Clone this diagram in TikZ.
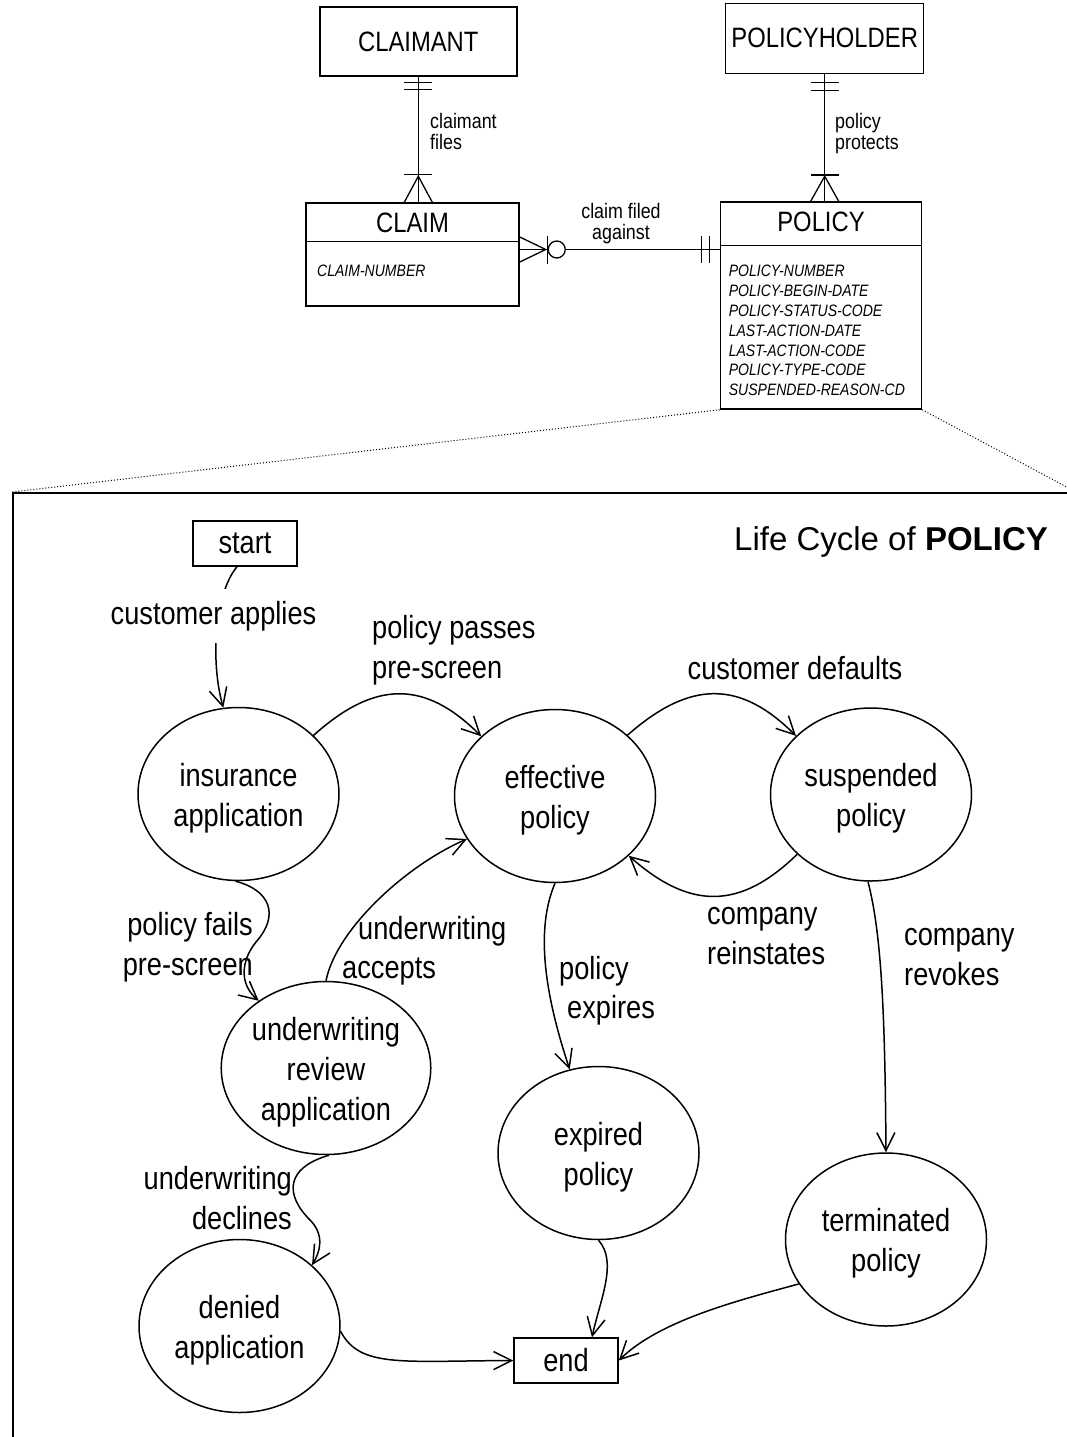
\documentclass[tikz,border=0pt]{standalone}
\usepackage{fontspec}
\setmainfont{Liberation Sans}
\newfontfamily\narrowsans[FakeStretch=0.85]{Liberation Sans}
\usetikzlibrary{shapes.geometric,arrows.meta}
% taller first line so the state text sits a little lower in its ellipse
\newcommand{\lift}{\rule{0pt}{31pt}}

\begin{document}
\begin{tikzpicture}[x=1pt,y=-1pt,
  state/.style={ellipse, draw, line width=1.5pt, minimum width=201pt, minimum height=173pt,
    inner sep=0pt, align=center, font=\narrowsans\fontsize{32}{40}\selectfont},
  endbox/.style={draw, line width=1.5pt, minimum width=104pt, minimum height=45pt,
    inner sep=0pt, font=\narrowsans\fontsize{32}{40}\selectfont},
  lbl/.style={inner sep=0pt, font=\narrowsans\fontsize{32}{40}\selectfont},
  ent/.style={draw, line width=1.5pt, inner sep=0pt, font=\narrowsans\fontsize{28}{32}\selectfont},
  enttitle/.style={inner sep=0pt, font=\narrowsans\fontsize{28}{32}\selectfont},
  rel/.style={inner sep=0pt, align=left, font=\narrowsans\fontsize{21}{21}\selectfont},
  attr/.style={inner sep=0pt, align=left, anchor=north west,
    font=\narrowsans\itshape\fontsize{16.5}{19.8}\selectfont},
  erline/.style={line width=1.3pt},
  flow/.style={line width=1.5pt, -{Straight Barb[length=18pt,width=18pt]}},
  zoomline/.style={line width=1pt, dash pattern=on 1pt off 2pt},
]
\useasboundingbox (0,0) rectangle (1067,1437);

% ---------------- entity-relationship part ----------------
\node[ent, minimum width=197pt, minimum height=69pt] (claimant) at (418.3,41.5) {CLAIMANT};
\node[ent, minimum width=198pt, minimum height=70pt] (holder) at (824.7,38.3) {POLICYHOLDER};
\node[ent, minimum width=213pt, minimum height=103pt] (claim) at (412.5,254.5) {};
\node[ent, minimum width=201pt, minimum height=207pt] (policy) at (821,305.5) {};

\node[enttitle] (claimT) at (412.5,223) {CLAIM};
\node[enttitle] (policyT) at (821,222) {POLICY};
\draw[line width=1.5pt] ([yshift=-39pt]claim.north west) -- ([yshift=-39pt]claim.north east);
\draw[line width=1.5pt] ([yshift=-44pt]policy.north west) -- ([yshift=-44pt]policy.north east);

\node[attr] (claimA) at (317,265.2) {CLAIM-NUMBER};
\node[attr] (policyA) at (728.6,265.2) {POLICY-NUMBER\\POLICY-BEGIN-DATE\\POLICY-STATUS-CODE\\LAST-ACTION-DATE\\LAST-ACTION-CODE\\POLICY-TYPE-CODE\\SUSPENDED-REASON-CD};

% claimant files claim
\coordinate (cfA) at (claimant.south |- claim.north);
\draw[erline] (claimant.south) -- (cfA);
\draw[erline] ([shift={(-14pt,-6pt)}]claimant.south) -- ([shift={(14pt,-6pt)}]claimant.south);
\draw[erline] ([shift={(-14pt,-13pt)}]claimant.south) -- ([shift={(14pt,-13pt)}]claimant.south);
\draw[erline] ([shift={(-14pt,27.5pt)}]cfA) -- ([shift={(14pt,27.5pt)}]cfA);
\draw[erline] ([xshift=-14pt]cfA) -- ([yshift=26pt]cfA) -- ([xshift=14pt]cfA);
\node[rel, anchor=north west] (relA) at (430,113) {claimant\\files};

% policy protects policyholder
\coordinate (cfB) at (holder.south |- policy.north);
\draw[erline] (holder.south) -- (cfB);
\draw[erline] ([shift={(-14pt,-8.7pt)}]holder.south) -- ([shift={(14pt,-8.7pt)}]holder.south);
\draw[erline] ([shift={(-14pt,-16.7pt)}]holder.south) -- ([shift={(14pt,-16.7pt)}]holder.south);
\draw[erline] ([shift={(-14pt,26.3pt)}]cfB) -- ([shift={(14pt,26.3pt)}]cfB);
\draw[erline] ([xshift=-14pt]cfB) -- ([yshift=25pt]cfB) -- ([xshift=14pt]cfB);
\node[rel, anchor=north west] (relB) at (835,113) {policy\\protects};

% claim filed against policy
\coordinate (cfC) at ([yshift=5pt]claim.east);
\coordinate (cfD) at (cfC -| policy.west);
\draw[erline] (cfC) -- (cfD);
\draw[erline] ([yshift=12.5pt]cfC) -- ([xshift=26pt]cfC) -- ([yshift=-12.5pt]cfC);
\draw[erline] ([shift={(28pt,14pt)}]cfC) -- ([shift={(28pt,-14pt)}]cfC);
\draw[erline, fill=white] ([xshift=37pt]cfC) circle[radius=8.5pt];
\draw[erline] ([shift={(-18.4pt,13.5pt)}]cfD) -- ([shift={(-18.4pt,-13.5pt)}]cfD);
\draw[erline] ([shift={(-10.4pt,13.5pt)}]cfD) -- ([shift={(-10.4pt,-13.5pt)}]cfD);
\node[rel, anchor=north, align=center] (relC) at (621,203) {claim filed\\against};

% ---------------- life cycle frame ----------------
\node[draw, line width=2pt, anchor=north west, minimum width=1062pt, minimum height=960pt,
  inner sep=0pt] (frame) at (12,492) {};
\draw[zoomline] (policy.south west) -- (frame.north west);
\draw[zoomline] (policy.south east) -- (frame.north east);

\node[inner sep=0pt, anchor=base west, font=\fontsize{33}{38}\selectfont] (title)
  at (734,550) {Life Cycle of \textbf{POLICY}};

% states
\node[endbox] (start) at (245,543.5) {start};
\node[state] (ins) at (238.5,794) {\lift insurance\\application};
\node[state] (eff) at (555,796) {\lift effective\\policy};
\node[state] (susp) at (871,794.5) {\lift suspended\\policy};
\node[state] (uw) at (326,1068) {\lift underwriting\\review\\application};
\node[state] (exp) at (598.5,1153) {\lift expired\\policy};
\node[state] (termd) at (886,1239.5) {\lift terminated\\policy};
\node[state] (den) at (239.5,1326) {\lift denied\\application};
\node[endbox] (stop) at (566,1360.5) {end};

% transitions
\draw[flow] ([xshift=-8pt]start.south) .. controls (215,593) and (210,660) .. (ins.100);
\draw[flow] (ins.38) .. controls (375,680) and (425,680) .. (eff.141);
\draw[flow] (eff.40) .. controls (690,680) and (740,680) .. (susp.142);
\draw[flow] (susp.219) .. controls (740,910) and (690,910) .. (eff.321);
\draw[flow] (ins.268) .. controls (270,890) and (280,915) .. (256,942)
  .. controls (240,962) and (240,985) .. (uw.135);
\draw[flow] (uw.north) .. controls (336,930) and (405,866) .. (eff.206);
\draw[flow] (eff.south) .. controls (535,930) and (545,995) .. (exp.109);
\draw[flow] (susp.268) .. controls (882,935) and (885,1020) .. (termd.north);
\draw[flow] (uw.272) .. controls (285,1168) and (285,1195) .. (310,1220)
  .. controls (325,1235) and (320,1252) .. (den.40);
\draw[flow] (exp.south) .. controls (618,1262) and (600,1300) .. ([xshift=26pt]stop.north);
\draw[flow] (termd.207) .. controls (740,1300) and (660,1320) .. (stop.east);
\draw[flow] (den.-3) .. controls (360,1368) and (400,1361) .. (stop.west);

% transition labels
\node[lbl, fill=white, inner xsep=2pt, inner ysep=12pt] (ca) at (213.5,616) {customer applies};
\node[lbl, align=left, anchor=west] (pp) at (372,650) {policy passes\\pre-screen};
\node[lbl] (cd) at (795,668) {customer defaults};
\node[lbl, align=right, anchor=east] (pf) at (253,947) {policy fails\\pre-screen};
\node[lbl, anchor=west] (ua1) at (358,931) {underwriting};
\node[lbl, anchor=west] (ua2) at (342,971) {accepts};
\node[lbl, anchor=west] (pe1) at (559,971) {policy};
\node[lbl, anchor=west] (pe2) at (567,1010) {expires};
\node[lbl, align=left, anchor=west] (cr) at (707,936) {company\\reinstates};
\node[lbl, align=left, anchor=west] (cv) at (904,957) {company\\revokes};
\node[lbl, align=right, anchor=east] (ud) at (292,1198) {underwriting\\declines};
\end{tikzpicture}
\end{document}
